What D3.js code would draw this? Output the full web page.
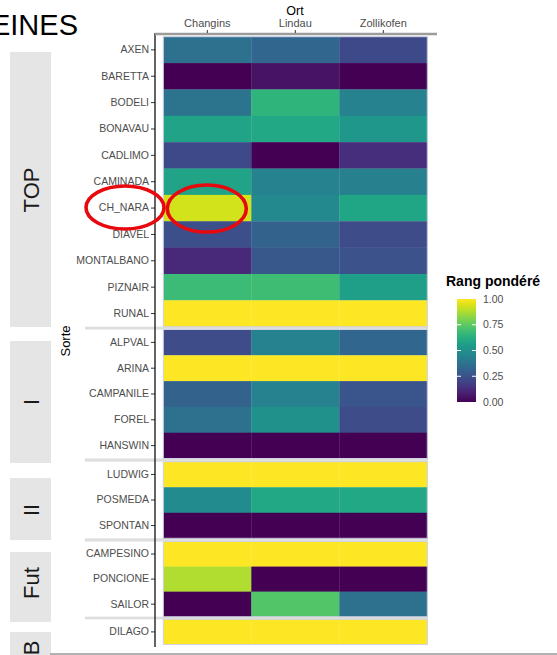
<!DOCTYPE html>
<html><head><meta charset="utf-8">
<script src="https://cdn.jsdelivr.net/npm/d3@7"></script>
<style>html,body{margin:0;padding:0;background:#fff;overflow:hidden}svg{display:block;font-family:"Liberation Sans",Arial,sans-serif}</style>
</head><body>
<svg id="c" width="557" height="655"></svg>
<script>
// ---- data ----
const orte = ["Changins", "Lindau", "Zollikofen"];
const groups = ["TOP", "I", "II", "Fut", "B"];
const sorten = ["AXEN","BARETTA","BODELI","BONAVAU","CADLIMO","CAMINADA","CH_NARA","DIAVEL","MONTALBANO","PIZNAIR","RUNAL",
  "ALPVAL","ARINA","CAMPANILE","FOREL","HANSWIN",
  "LUDWIG","POSMEDA","SPONTAN",
  "CAMPESINO","PONCIONE","SAILOR",
  "DILAGO"];
const sorteGroup = ["TOP","TOP","TOP","TOP","TOP","TOP","TOP","TOP","TOP","TOP","TOP",
  "I","I","I","I","I",
  "II","II","II",
  "Fut","Fut","Fut",
  "B"];
const rangChangins   = [0.37,0.00,0.38,0.58,0.22,0.58,0.93,0.24,0.11,0.68,1.00, 0.23,1.00,0.31,0.37,0.00, 1.00,0.48,0.00, 1.00,0.88,0.00, 1.00];
const rangLindau     = [0.33,0.05,0.65,0.60,0.00,0.44,0.47,0.31,0.27,0.69,1.00, 0.44,1.00,0.44,0.50,0.00, 1.00,0.60,0.00, 1.00,0.00,0.73, 1.00];
const rangZollikofen = [0.22,0.00,0.44,0.53,0.13,0.43,0.59,0.23,0.25,0.56,1.00, 0.33,1.00,0.26,0.23,0.00, 1.00,0.60,0.00, 1.00,0.00,0.37, 1.00];
const legendTicks = [0, 0.25, 0.5, 0.75, 1];
const highlighted = "CH_NARA";

// ---- layout ----
const svg = d3.select("#c");
const panelX = [163.3, 427.3];
const panelY = {TOP:[36.7,326.7], I:[329.5,458.5], II:[461.7,538.3], Fut:[541.5,616.7], B:[619.3,644.5]};
const stripY = {TOP:[52,327], I:[341,463], II:[478,540], Fut:[552,622], B:[632,700]};
const stripTextY = {TOP:190, I:402, II:510, Fut:583, B:648};

const x = d3.scaleBand().domain(orte).range(panelX);
const color = d3.scaleSequential(d3.interpolateViridis).domain([0,1]);
const series = [rangChangins, rangLindau, rangZollikofen];

const cells = [];
sorten.forEach((s,i)=>orte.forEach((o,j)=>cells.push({s, o, g:sorteGroup[i], v:series[j][i]})));

// title fragment
svg.append("text").attr("x",78).attr("y",35).attr("text-anchor","end")
  .attr("font-size",29).attr("fill","#000").text("EINES");

// strips
groups.forEach(g=>{
  const [a,b]=stripY[g];
  svg.append("rect").attr("x",10).attr("y",a).attr("width",41).attr("height",b-a).attr("fill","#e5e5e5");
  svg.append("text").attr("transform",`translate(39,${stripTextY[g]}) rotate(-90)`)
    .attr("text-anchor","middle").attr("font-size",22).attr("fill","#1a1a1a").text(g);
});

// separators between panels
for(let k=0;k<groups.length-1;k++){
  const y0=panelY[groups[k]][1], y1=panelY[groups[k+1]][0];
  svg.append("rect").attr("x",85).attr("y",y0).attr("width",428-85).attr("height",y1-y0).attr("fill","#dedede");
}

// panels
const yScales = {};
groups.forEach(g=>{
  const rows = sorten.filter((s,i)=>sorteGroup[i]===g);
  const y = d3.scaleBand().domain(rows).range(panelY[g]);
  yScales[g]=y;
  const gp = svg.append("g");
  gp.selectAll("rect.cell").data(cells.filter(c=>c.g===g)).join("rect")
    .attr("x",d=>x(d.o)).attr("y",d=>y(d.s))
    .attr("width",x.bandwidth()+0.3).attr("height",y.bandwidth()+0.3)
    .attr("fill",d=>color(d.v));
  gp.append("rect").attr("x",panelX[0]).attr("y",panelY[g][0]).attr("width",panelX[1]-panelX[0])
    .attr("height",panelY[g][1]-panelY[g][0]).attr("fill","none").attr("stroke","#cfd3e3").attr("stroke-width",1);
  // y axis
  const ax = svg.append("g").attr("transform","translate(155,0)").call(d3.axisLeft(y).tickSize(4).tickPadding(2));
  ax.select(".domain").remove();
  ax.selectAll("line").attr("stroke","#333");
  ax.selectAll("text").attr("font-size",10.5).attr("fill","#4d4d4d").attr("font-family","Liberation Sans, Arial, sans-serif");
});

// y axis line
svg.append("line").attr("x1",155).attr("x2",155).attr("y1",33).attr("y2",647).attr("stroke","#222").attr("stroke-width",1.4);

// top axis
svg.append("line").attr("x1",155).attr("x2",437).attr("y1",34).attr("y2",34).attr("stroke","#9c9c9c").attr("stroke-width",2.6);
const tax = svg.append("g").attr("transform","translate(0,33)").call(d3.axisTop(x).tickSize(3).tickPadding(3));
tax.select(".domain").remove();
tax.selectAll("line").attr("stroke","#333");
tax.selectAll("text").attr("font-size",11).attr("fill","#4d4d4d").attr("font-family","Liberation Sans, Arial, sans-serif");
svg.append("text").attr("x",295).attr("y",14.5).attr("text-anchor","middle").attr("font-size",12.5).attr("fill","#000").text("Ort");

// y title
svg.append("text").attr("transform","translate(70,341) rotate(-90)").attr("text-anchor","middle")
  .attr("font-size",13).attr("fill","#000").text("Sorte");

// bottom line
svg.append("line").attr("x1",50).attr("x2",557).attr("y1",654).attr("y2",654).attr("stroke","#999").attr("stroke-width",1.5);

// legend
svg.append("text").attr("x",446).attr("y",286).attr("font-size",14).attr("font-weight","bold").attr("fill","#000").text("Rang pondéré");
const ly = d3.scaleLinear().domain([0,1]).range([402,299]);
const defs = svg.append("defs");
const grad = defs.append("linearGradient").attr("id","vg").attr("x1",0).attr("x2",0).attr("y1",1).attr("y2",0);
d3.range(0,1.0001,0.05).forEach(t=>grad.append("stop").attr("offset",t).attr("stop-color",color(t)));
svg.append("rect").attr("x",457).attr("y",ly(1)).attr("width",19).attr("height",ly(0)-ly(1)).attr("fill","url(#vg)");
legendTicks.forEach(t=>{
  if(t>0 && t<1){
    svg.append("line").attr("x1",457).attr("x2",461).attr("y1",ly(t)).attr("y2",ly(t)).attr("stroke","#fff").attr("stroke-width",1);
    svg.append("line").attr("x1",472).attr("x2",476).attr("y1",ly(t)).attr("y2",ly(t)).attr("stroke","#fff").attr("stroke-width",1);
  }
  svg.append("text").attr("x",483).attr("y",ly(t)).attr("dy","0.35em").attr("font-size",10.5).attr("fill","#4d4d4d").text(t.toFixed(2));
});

// red highlight ellipses
const hy = yScales.TOP;
const cy = hy(highlighted)+hy.bandwidth()/2;
svg.append("ellipse").attr("cx",125).attr("cy",cy-0.5).attr("rx",39).attr("ry",21.5)
  .attr("fill","none").attr("stroke","#e8090f").attr("stroke-width",3.6);
svg.append("ellipse").attr("cx",x("Changins")+x.bandwidth()/2-0.5).attr("cy",cy+0.5).attr("rx",39.5).attr("ry",23.5)
  .attr("fill","none").attr("stroke","#e8090f").attr("stroke-width",3.6);
</script>
</body></html>
